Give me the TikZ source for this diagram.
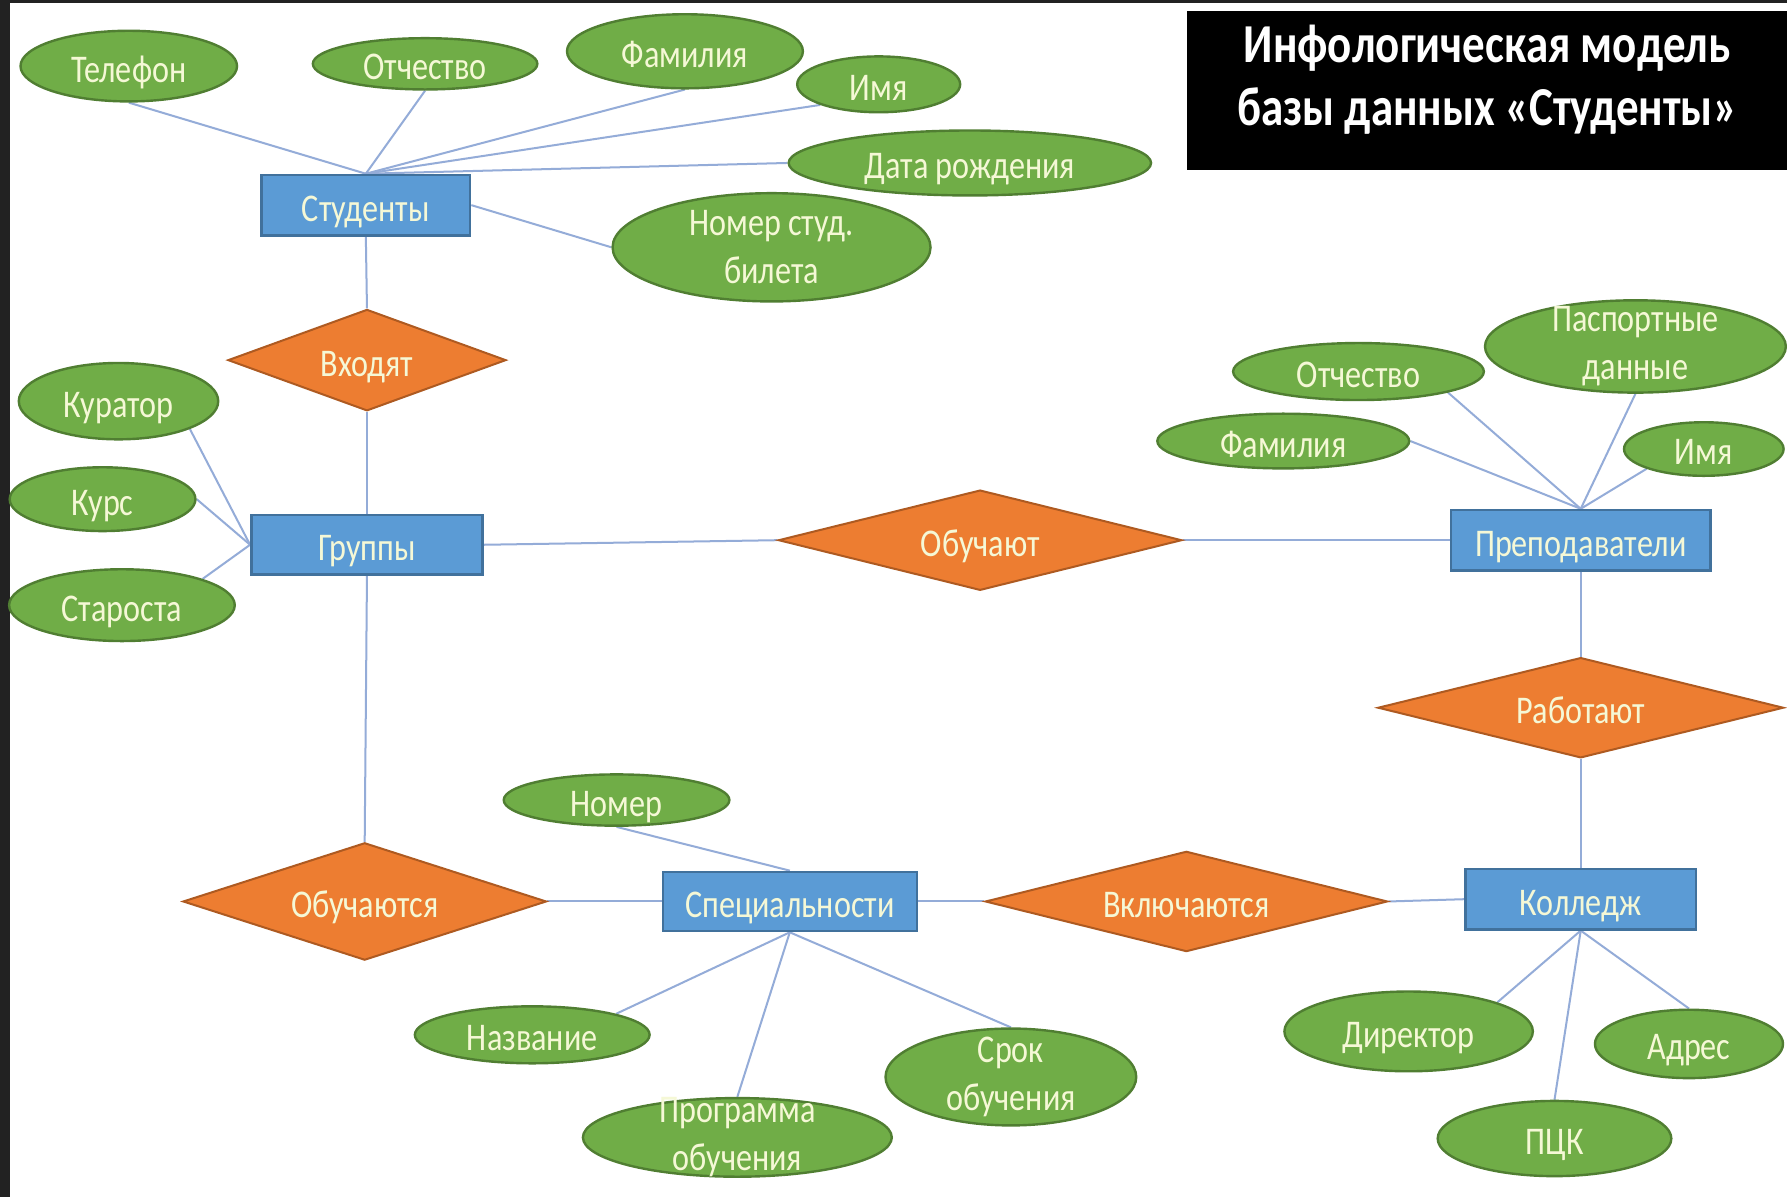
\documentclass[tikz,border=0pt]{standalone}
\usepackage{fontspec}
\setmainfont{Carlito}[FakeStretch=0.82]
\usetikzlibrary{shapes.geometric}

\definecolor{entfill}{HTML}{5B9BD5}
\definecolor{entline}{HTML}{41719C}
\definecolor{relfill}{HTML}{ED7D31}
\definecolor{relline}{HTML}{AE5A21}
\definecolor{attfill}{HTML}{70AD47}
\definecolor{attline}{HTML}{507E32}
\definecolor{linkcol}{HTML}{94ACD8}
\definecolor{labelcol}{HTML}{F5F8D6}
\definecolor{edgedark}{HTML}{222222}

\pgfdeclarelayer{bottom}
\pgfdeclarelayer{background}
\pgfsetlayers{bottom,background,main}

\begin{document}
\begin{tikzpicture}[x=0.1mm,y=-0.1mm,
  every node/.style={font=\fontsize{9.8}{12}\selectfont, text=labelcol},
  oneline/.style={text height=2.8mm, text depth=0pt},
  entity/.style={rectangle, draw=entline, fill=entfill, line width=0.6pt, inner sep=0pt, oneline},
  relation/.style={diamond, draw=relline, fill=relfill, line width=0.5pt, inner sep=0pt, aspect=3, oneline},
  attrib/.style={ellipse, draw=attline, fill=attfill, line width=0.6pt, inner sep=-2mm, align=center},
  attrib1/.style={attrib, oneline},
  link/.style={draw=linkcol, line width=0.5pt}]

% page background and dark frame strips
\begin{pgfonlayer}{bottom}
  \fill[white] (0,0) rectangle (1568,1050);
  \fill[edgedark] (0,0) rectangle (8.8,1050);
  \fill[edgedark] (0,0) rectangle (1568,2.6);
\end{pgfonlayer}
\useasboundingbox (0,0) rectangle (1568,1050);

% title
\node[fill=black, minimum width=52.74mm, minimum height=13.95mm, inner sep=0pt, anchor=north west] (titlebox) at (1040.6,8.8) {};
\node[align=center, text=white, font=\bfseries\fontsize{13.7}{15.6}\selectfont] (title) at (1305,70)
  {Инфологическая модель\\базы данных «Студенты»};

% entities
\node[entity, minimum width=18.3mm, minimum height=5.3mm] (stud) at (321,180) {Студенты};
\node[entity, minimum width=20.3mm, minimum height=5.2mm] (grp) at (322,478) {Группы};
\node[entity, minimum width=22.8mm, minimum height=5.3mm] (prep) at (1387,474) {Преподаватели};
\node[entity, minimum width=22.3mm, minimum height=5.2mm] (spec) at (693,791) {Специальности};
\node[entity, minimum width=20.2mm, minimum height=5.3mm] (coll) at (1387,789) {Колледж};

% relationships
\node[relation, minimum width=24.4mm, minimum height=8.9mm] (vhod) at (322,316) {Входят};
\node[relation, minimum width=35.4mm, minimum height=8.8mm] (obuch) at (860,474) {Обучают};
\node[relation, minimum width=35.6mm, minimum height=8.8mm] (rab) at (1387,621) {Работают};
\node[relation, minimum width=31.9mm, minimum height=10.3mm] (obuchs) at (320,791) {Обучаются};
\node[relation, minimum width=35.3mm, minimum height=8.8mm] (vkl) at (1041,791) {Включаются};

% attributes of Студенты
\node[attrib1, minimum width=19.0mm, minimum height=6.2mm] (tel) at (113,58) {Телефон};
\node[attrib1, minimum width=19.7mm, minimum height=4.5mm] (otch1) at (373,56) {Отчество};
\node[attrib1, minimum width=20.7mm, minimum height=6.5mm] (fam1) at (601,45) {Фамилия};
\node[attrib1, minimum width=14.3mm, minimum height=4.9mm] (imya1) at (771,74) {Имя};
\node[attrib1, minimum width=31.8mm, minimum height=5.7mm] (dr) at (851,143) {Дата рождения};
\node[attrib, minimum width=27.9mm, minimum height=9.5mm] (nsb) at (677,217) {Номер студ.\\билета};

% attributes of Группы
\node[attrib1, minimum width=17.5mm, minimum height=6.7mm] (kur) at (104,352) {Куратор};
\node[attrib1, minimum width=16.3mm, minimum height=5.6mm] (kurs) at (90,438) {Курс};
\node[attrib1, minimum width=19.8mm, minimum height=6.3mm] (star) at (107,531) {Староста};

% attributes of Преподаватели
\node[attrib1, minimum width=22.0mm, minimum height=5.0mm] (otch2) at (1192,326) {Отчество};
\node[attrib, minimum width=26.4mm, minimum height=8.1mm] (pasp) at (1435,304) {Паспортные\\данные};
\node[attrib1, minimum width=22.1mm, minimum height=4.8mm] (fam2) at (1126,387) {Фамилия};
\node[attrib1, minimum width=14.0mm, minimum height=4.7mm] (imya2) at (1495,394) {Имя};

% attributes of Специальности
\node[attrib1, minimum width=19.8mm, minimum height=4.5mm] (nom) at (541,702) {Номер};
\node[attrib1, minimum width=20.6mm, minimum height=5.0mm] (nazv) at (467,908) {Название};
\node[attrib, minimum width=27.1mm, minimum height=6.9mm] (prog) at (647,998) {Программа\\обучения};
\node[attrib, minimum width=22.0mm, minimum height=8.5mm] (srok) at (887,945) {Срок\\обучения};

% attributes of Колледж
\node[attrib1, minimum width=21.8mm, minimum height=7.0mm] (dir) at (1236,905) {Директор};
\node[attrib1, minimum width=16.5mm, minimum height=6.0mm] (adr) at (1482,916) {Адрес};
\node[attrib1, minimum width=20.5mm, minimum height=6.6mm] (pck) at (1364,999) {ПЦК};

% connectors
\begin{pgfonlayer}{background}
  \path[link] (stud.north) -- (tel.south);
  \path[link] (stud.north) -- (otch1.south);
  \path[link] (stud.north) -- (fam1.south);
  \path[link] (stud.north) -- (imya1.south west);
  \path[link] (stud.north) -- (dr.west);
  \path[link] (stud.east) -- (nsb.west);
  \path[link] (stud.south) -- (vhod.north);
  \path[link] (vhod.south) -- (grp.north);
  \path[link] (grp.west) -- (kur.south east);
  \path[link] (grp.west) -- (kurs.east);
  \path[link] (grp.west) -- (star.north east);
  \path[link] (grp.east) -- (obuch.west);
  \path[link] (obuch.east) -- (prep.west);
  \path[link] (prep.north) -- (fam2.east);
  \path[link] (prep.north) -- (otch2.south east);
  \path[link] (prep.north) -- (pasp.south);
  \path[link] (prep.north) -- (imya2.south west);
  \path[link] (prep.south) -- (rab.north);
  \path[link] (rab.south) -- (coll.north);
  \path[link] (coll.west) -- (vkl.east);
  \path[link] (vkl.west) -- (spec.east);
  \path[link] (spec.west) -- (obuchs.east);
  \path[link] (obuchs.north) -- (grp.south);
  \path[link] (spec.north) -- (nom.south);
  \path[link] (spec.south) -- (nazv.north east);
  \path[link] (spec.south) -- (prog.north);
  \path[link] (spec.south) -- (srok.north);
  \path[link] (coll.south) -- (dir.north east);
  \path[link] (coll.south) -- (pck.north);
  \path[link] (coll.south) -- (adr.north);
\end{pgfonlayer}
\end{tikzpicture}
\end{document}
